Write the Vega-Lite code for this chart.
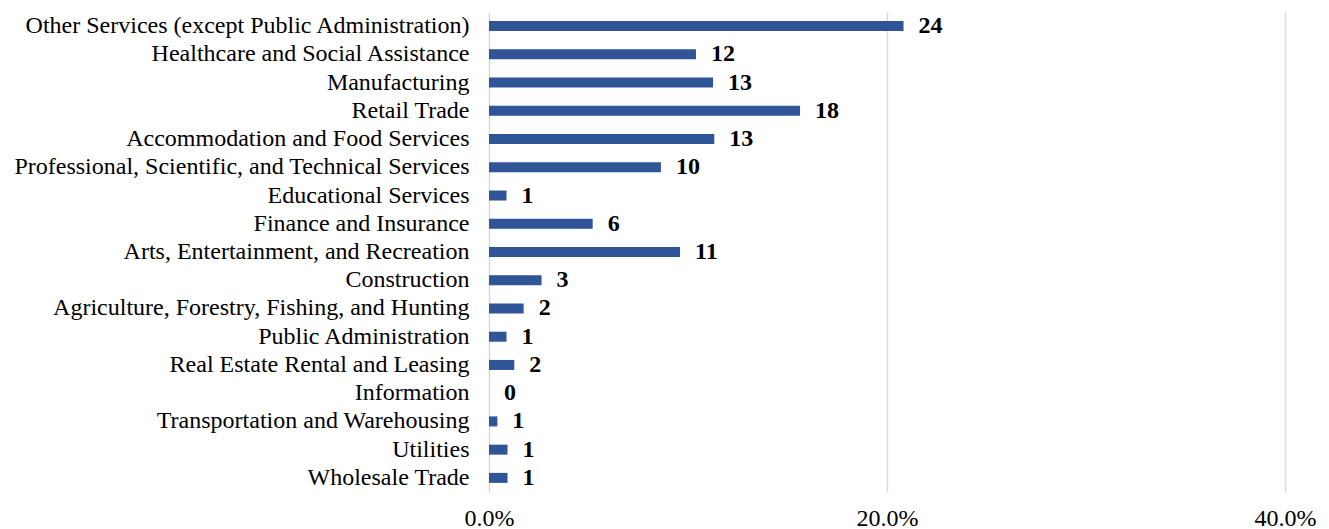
{
  "$schema": "https://vega.github.io/schema/vega-lite/v6.json",
  "autosize": "none",
  "padding": {"left": 489, "top": 12, "right": 44, "bottom": 37},
  "width": 796,
  "height": 480,
  "background": "white",
  "config": {"view": {"stroke": null}, "font": "Liberation Serif"},
  "data": {"values": [
    {"category": "Other Services (except Public Administration)", "pct": 0.2083, "count": 24},
    {"category": "Healthcare and Social Assistance", "pct": 0.1040, "count": 12},
    {"category": "Manufacturing", "pct": 0.1126, "count": 13},
    {"category": "Retail Trade", "pct": 0.1563, "count": 18},
    {"category": "Accommodation and Food Services", "pct": 0.1132, "count": 13},
    {"category": "Professional, Scientific, and Technical Services", "pct": 0.0864, "count": 10},
    {"category": "Educational Services", "pct": 0.0088, "count": 1},
    {"category": "Finance and Insurance", "pct": 0.0521, "count": 6},
    {"category": "Arts, Entertainment, and Recreation", "pct": 0.0960, "count": 11},
    {"category": "Construction", "pct": 0.0264, "count": 3},
    {"category": "Agriculture, Forestry, Fishing, and Hunting", "pct": 0.0174, "count": 2},
    {"category": "Public Administration", "pct": 0.0088, "count": 1},
    {"category": "Real Estate Rental and Leasing", "pct": 0.0127, "count": 2},
    {"category": "Information", "pct": 0.0, "count": 0},
    {"category": "Transportation and Warehousing", "pct": 0.0042, "count": 1},
    {"category": "Utilities", "pct": 0.0093, "count": 1},
    {"category": "Wholesale Trade", "pct": 0.0093, "count": 1}
  ]},
  "encoding": {
    "y": {
      "field": "category", "type": "nominal", "sort": null,
      "scale": {"paddingInner": 0.646, "paddingOuter": 0.323},
      "axis": {"title": null, "domain": false, "ticks": false, "labelPadding": 20, "labelFont": "Liberation Serif", "labelFontSize": 24, "labelColor": "#000000", "labelLimit": 600}
    },
    "x": {
      "field": "pct", "type": "quantitative",
      "scale": {"domain": [0, 0.4], "nice": false},
      "axis": {"title": null, "values": [0, 0.2, 0.4], "format": ".1%", "domain": false, "ticks": false, "grid": true, "gridColor": "#d9d9d9", "gridWidth": 1.5, "labelPadding": 14, "labelFont": "Liberation Serif", "labelFontSize": 24, "labelColor": "#000000", "labelFlush": false}
    }
  },
  "layer": [
    {"mark": {"type": "bar", "color": "#2F5597"}},
    {"mark": {"type": "text", "align": "left", "baseline": "middle", "dx": 15, "fontWeight": "bold", "fontSize": 24, "font": "Liberation Serif", "color": "#000000"},
     "encoding": {"text": {"field": "count", "type": "quantitative"}}}
  ]
}
